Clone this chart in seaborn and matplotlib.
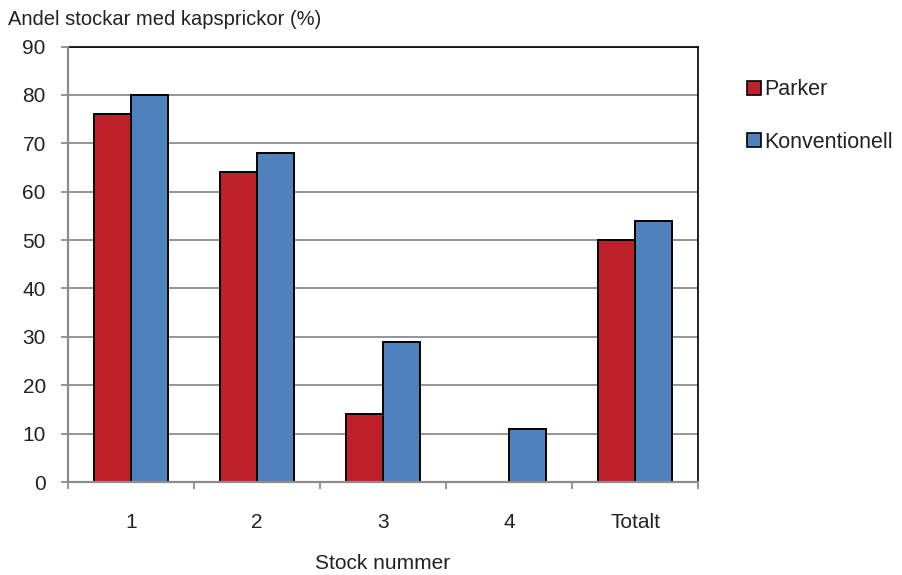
import numpy as np
import pandas as pd
import matplotlib
matplotlib.use("Agg")
import matplotlib.pyplot as plt
import seaborn as sns
from matplotlib.ticker import FixedLocator

categories = ["1", "2", "3", "4", "Totalt"]
parker = [76, 64, 14, 0, 50]
konventionell = [80, 68, 29, 11, 54]
series_names = ["Parker", "Konventionell"]
y_ticks = [0, 10, 20, 30, 40, 50, 60, 70, 80, 90]

df = pd.DataFrame({
    "Stock": categories * 2,
    "Andel": parker + konventionell,
    "Serie": [series_names[0]] * len(categories) + [series_names[1]] * len(categories),
})

sns.set_style("white")
plt.rcParams["font.family"] = ["Liberation Sans", "DejaVu Sans"]

fig = plt.figure(figsize=(9.03, 5.75), dpi=100)
ax = fig.add_axes([0.0753, 0.1617, 0.6977, 0.7574])

palette = {"Parker": "#C0202A", "Konventionell": "#4F81BD"}
sns.barplot(data=df, x="Stock", y="Andel", hue="Serie", order=categories,
            hue_order=series_names, palette=palette, width=0.59, gap=0,
            edgecolor="black", linewidth=1.4, saturation=1, ax=ax, legend=False,
            errorbar=None, zorder=3)

# hide outline on empty bars
for p in ax.patches:
    if p.get_height() == 0:
        p.set_linewidth(0)

grid_c = "#8C8C8C"
text_c = "#222222"
fs = 15
ax.set_ylim(0, 90)
ax.set_xlim(-0.5, len(categories) - 0.5)
ax.yaxis.set_major_locator(FixedLocator(y_ticks))
ax.grid(axis="y", color=grid_c, linewidth=1.3, zorder=0)
ax.set_axisbelow(True)

ax.xaxis.set_minor_locator(FixedLocator(np.arange(-0.5, len(categories), 1.0)))
ax.tick_params(axis="x", which="major", length=0, pad=22, labelsize=fs, labelcolor=text_c)
ax.tick_params(axis="x", which="minor", length=5, width=1.3, color=grid_c, direction="out", bottom=True)
ax.tick_params(axis="y", which="major", length=5, width=1.3, color=grid_c, direction="out",
               left=True, labelsize=fs, labelcolor=text_c, pad=11)

for side in ["top", "right"]:
    ax.spines[side].set_visible(True)
    ax.spines[side].set_color("black")
    ax.spines[side].set_linewidth(1.2)
for side in ["left", "bottom"]:
    ax.spines[side].set_color(grid_c)
    ax.spines[side].set_linewidth(1.6)
    ax.spines[side].set_zorder(4)

ax.set_xlabel("Stock nummer", fontsize=fs, color=text_c, labelpad=16)
ax.set_ylabel("")
fig.text(0.009, 0.966, "Andel stockar med kapsprickor (%)", fontsize=14.5, color=text_c,
         ha="left", va="center")

handles = [plt.Rectangle((0, 0), 1, 1, facecolor=palette[s], edgecolor="black", linewidth=1.2)
           for s in series_names]
fig.legend(handles, series_names, loc="upper left", bbox_to_anchor=(0.818, 0.877),
           frameon=False, fontsize=15.5, handlelength=0.65, handleheight=0.65,
           handletextpad=0.15, labelspacing=1.45, borderaxespad=0, labelcolor=text_c)

fig.savefig("out.png", dpi=100)
